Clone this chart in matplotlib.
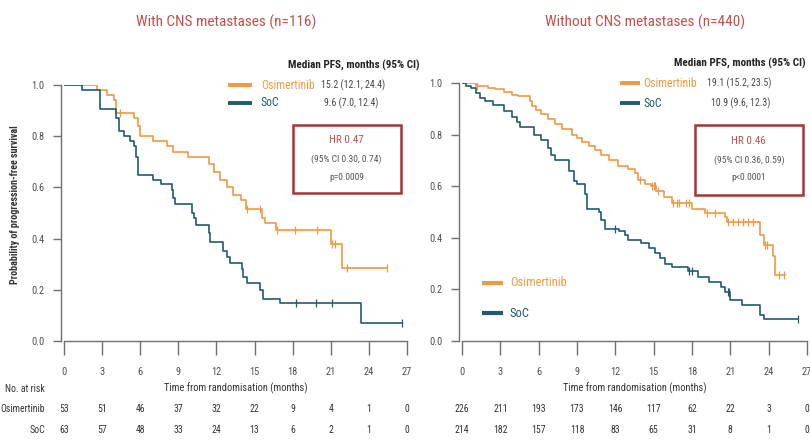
import numpy as np
import matplotlib
matplotlib.use("Agg")
import matplotlib.pyplot as plt
from matplotlib import font_manager as fm
from matplotlib.patches import Rectangle
import matplotlib.transforms as mtrans

entries = fm.fontManager.ttflist
names = {f.name for f in entries}
FAM, STRETCH, NARROW = "DejaVu Sans", "normal", False
for cand in ["Liberation Sans Narrow", "Roboto Condensed", "Open Sans Condensed", "DejaVu Sans Condensed"]:
    if cand in names:
        FAM, NARROW = cand, True
        break
if not NARROW:
    for f in entries:
        if f.name == "DejaVu Sans" and "ondensed" in f.fname:
            FAM, STRETCH, NARROW = "DejaVu Sans", "condensed", True
            break
plt.rcParams["font.family"] = [FAM, "DejaVu Sans"]
plt.rcParams["font.stretch"] = STRETCH
K = 1.0 if NARROW else 0.85  # shrink text a little if no narrow face

ORANGE = "#EE9A45"
TEAL = "#1F5C6B"
TITLE_RED = "#C0504D"
BOX_RED = "#A83236"
GRAY = "#505050"

# ---------------- data ----------------
titles = ["With CNS metastases (n=116)", "Without CNS metastases (n=440)"]
xticks = [0, 3, 6, 9, 12, 15, 18, 21, 24, 27]
yticks = [0.0, 0.2, 0.4, 0.6, 0.8, 1.0]

# Left: with CNS metastases
osi_L_t = [2.6, 3.4, 3.9, 4.1, 5.5, 5.8, 6.0, 7.0, 8.1, 8.6, 9.8, 11.4, 11.8, 12.3, 12.8,
           13.3, 13.9, 14.3, 15.6, 15.8, 16.7, 21.0, 21.9]
osi_L_s = [0.98, 0.96, 0.94, 0.89, 0.87, 0.84, 0.80, 0.78, 0.76, 0.74, 0.72, 0.69, 0.66, 0.63, 0.60,
           0.57, 0.55, 0.515, 0.48, 0.46, 0.435, 0.38, 0.285]
osi_L_end = 25.4
osi_L_cens = [4.4, 14.4, 15.4, 16.8, 18.2, 19.9, 21.1, 21.3, 22.3, 25.4]

soc_L_t = [1.4, 2.8, 4.1, 4.3, 4.7, 5.2, 5.5, 5.7, 5.85, 7.0, 7.6, 8.5, 8.6, 8.7, 10.05, 10.2,
           10.4, 11.4, 11.5, 12.5, 12.8, 13.1, 14.0, 14.1, 14.4, 15.4, 15.7, 17.0, 23.4]
soc_L_s = [0.98, 0.905, 0.87, 0.82, 0.80, 0.78, 0.76, 0.72, 0.65, 0.63, 0.615, 0.59, 0.56, 0.535, 0.50, 0.48,
           0.455, 0.42, 0.385, 0.35, 0.33, 0.305, 0.28, 0.25, 0.225, 0.20, 0.165, 0.147, 0.069]
soc_L_end = 26.6
soc_L_cens = [18.3, 19.8, 21.1, 26.6]

# Right: without CNS metastases
osi_R_t = [1.1, 2.0, 2.6, 3.3, 3.9, 4.4, 5.3, 5.5, 5.8, 6.2, 6.7, 7.3, 7.8, 8.6, 9.0, 9.4, 9.9, 10.4,
           10.9, 11.5, 12.2, 13.0, 13.5, 13.8, 14.3, 14.8, 15.2, 15.8, 16.4, 18.0, 19.0, 20.6, 20.7,
           23.3, 23.6, 24.3, 24.5]
osi_R_s = [0.99, 0.98, 0.975, 0.965, 0.955, 0.948, 0.93, 0.91, 0.895, 0.88, 0.86, 0.84, 0.82, 0.80, 0.785,
           0.77, 0.755, 0.74, 0.72, 0.70, 0.68, 0.665, 0.65, 0.625, 0.61, 0.60, 0.58, 0.56, 0.534, 0.51,
           0.495, 0.48, 0.463, 0.41, 0.373, 0.33, 0.256]
osi_R_end = 25.3
osi_R_cens = [1.2, 13.9, 14.9, 15.0, 15.1, 15.3, 16.5, 16.8, 17.0, 17.5, 17.8, 19.2, 19.8, 20.8,
              21.2, 21.6, 22.0, 22.4, 22.8, 23.7, 23.9, 24.8, 25.2]

soc_R_t = [0.34, 0.73, 1.1, 1.4, 1.8, 2.4, 3.3, 3.9, 4.3, 4.5, 5.6, 6.2, 6.7, 7.0, 7.3, 8.4, 8.8, 9.0,
           9.6, 9.75, 10.7, 10.9, 11.2, 12.3, 12.75, 13.0, 14.0, 14.6, 15.1, 15.5, 15.9, 16.4, 17.7,
           18.5, 19.3, 20.3, 20.6, 21.0, 21.9, 23.3, 23.6]
soc_R_s = [0.99, 0.98, 0.96, 0.94, 0.93, 0.915, 0.89, 0.87, 0.85, 0.83, 0.80, 0.78, 0.75, 0.72, 0.70,
           0.66, 0.62, 0.61, 0.57, 0.51, 0.50, 0.47, 0.435, 0.425, 0.41, 0.39, 0.38, 0.36, 0.34, 0.32,
           0.30, 0.285, 0.27, 0.25, 0.23, 0.21, 0.19, 0.16, 0.14, 0.10, 0.084]
soc_R_end = 26.3
soc_R_cens = [12.0, 17.8, 18.0, 20.8, 20.9, 26.3]

risk_osi_L = [53, 51, 46, 37, 32, 22, 9, 4, 1, 0]
risk_soc_L = [63, 57, 48, 33, 24, 13, 6, 2, 1, 0]
risk_osi_R = [226, 211, 193, 173, 146, 117, 62, 22, 3, 0]
risk_soc_R = [214, 182, 157, 118, 83, 65, 31, 8, 1, 0]

median_L = ["15.2 (12.1, 24.4)", "9.6 (7.0, 12.4)"]
median_R = ["19.1 (15.2, 23.5)", "10.9 (9.6, 12.3)"]
hr_L = ["HR 0.47", "(95% CI 0.30, 0.74)", "p=0.0009"]
hr_R = ["HR 0.46", "(95% CI 0.36, 0.59)", "p<0.0001"]

# ---------------- figure ----------------
fig = plt.figure(figsize=(8.1, 4.44), dpi=100)
axL = fig.add_axes([64 / 810, 1 - 341 / 444, 343 / 810, 256 / 444])
axR = fig.add_axes([462 / 810, 1 - 341 / 444, 345 / 810, 258 / 444])


def km(ax, t, s, end, cens, color):
    tt = np.concatenate([[0.0], t, [end]])
    ss = np.concatenate([[1.0], s, [s[-1]]])
    ax.step(tt, ss, where="post", color=color, lw=1.2, zorder=3)
    ct = np.asarray(cens)
    idx = np.searchsorted(tt, ct, side="right") - 1
    ax.plot(ct, ss[idx], ls="none", marker="|", ms=6, mew=0.9, color=color, zorder=4)


def style(ax):
    ax.set_xlim(0, 27)
    ax.set_ylim(0, 1)
    for sp in ["top", "right"]:
        ax.spines[sp].set_visible(False)
    for sp in ["left", "bottom"]:
        ax.spines[sp].set_color("#707070")
        ax.spines[sp].set_linewidth(1.0)
    ax.spines["left"].set_position(("outward", 2))
    ax.set_xticks(xticks)
    ax.set_xticklabels([str(v) for v in xticks])
    ax.set_yticks(yticks)
    ax.set_yticklabels([f"{v:.1f}" for v in yticks])
    ax.tick_params(axis="x", length=10, width=1, color="#707070", pad=9, labelsize=7.5 * K, labelcolor=GRAY)
    ax.tick_params(axis="y", length=6, width=1, color="#707070", pad=6, labelsize=7.5 * K, labelcolor=GRAY)
    ax.set_xlabel("Time from randomisation (months)", fontsize=7.5 * K, color="#333333", labelpad=4)


for ax in (axL, axR):
    style(ax)

km(axL, osi_L_t, osi_L_s, osi_L_end, osi_L_cens, ORANGE)
km(axL, soc_L_t, soc_L_s, soc_L_end, soc_L_cens, TEAL)
km(axR, osi_R_t, osi_R_s, osi_R_end, osi_R_cens, ORANGE)
km(axR, soc_R_t, soc_R_s, soc_R_end, soc_R_cens, TEAL)

fig.text(226 / 810, 1 - 22 / 444, titles[0], ha="center", va="center", fontsize=11 * K, color=TITLE_RED)
fig.text(645 / 810, 1 - 22 / 444, titles[1], ha="center", va="center", fontsize=11 * K, color=TITLE_RED)
fig.text(15 / 810, 1 - 205 / 444, "Probability of progression-free survival", rotation=90,
         ha="center", va="center", fontsize=7.2 * K, fontweight="bold", color="#333333")


def legend_block(ax, x_head, x_line0, x_line1, x_lab, x_val, y1, y2, meds, hr, box):
    kw = dict(clip_on=False, va="center")
    ax.text(x_head, 1.078, "Median PFS, months (95% CI)", ha="right", fontweight="bold",
            color="#222222", fontsize=8 * K, **kw)
    ax.plot([x_line0, x_line1], [y1, y1], color=ORANGE, lw=2.8, clip_on=False, solid_capstyle="butt")
    ax.plot([x_line0, x_line1], [y2, y2], color=TEAL, lw=2.8, clip_on=False, solid_capstyle="butt")
    ax.text(x_lab, y1, "Osimertinib", ha="left", color=ORANGE, fontsize=8.5 * K, **kw)
    ax.text(x_lab, y2, "SoC", ha="left", color=TEAL, fontsize=8.5 * K, **kw)
    ax.text(x_val, y1, meds[0], ha="left", color="#444444", fontsize=7 * K, **kw)
    ax.text(x_val + 0.3, y2, meds[1], ha="left", color="#444444", fontsize=7 * K, **kw)
    bx0, by0, bx1, by1 = box
    ax.add_patch(Rectangle((bx0, by0), bx1 - bx0, by1 - by0, fill=False, ec=BOX_RED, lw=1.8,
                           clip_on=False, zorder=5))
    xc = (bx0 + bx1) / 2
    ax.text(xc, by1 - 0.06, hr[0], ha="center", color=TITLE_RED, clip_on=False, va="center", fontsize=8 * K)
    ax.text(xc, by1 - 0.135, hr[1], ha="center", color="#555555", clip_on=False, va="center", fontsize=6.8 * K)
    ax.text(xc, by1 - 0.205, hr[2], ha="center", color="#555555", clip_on=False, va="center", fontsize=6.8 * K)


legend_block(axL, 28.0, 12.9, 14.8, 15.5, 20.2, 1.0, 0.93, median_L, hr_L, (18.0, 0.578, 26.5, 0.844))
legend_block(axR, 26.9, 12.4, 13.9, 14.2, 19.15, 1.0, 0.922, median_R, hr_R, (18.2, 0.566, 26.7, 0.837))

# lower-left legend in right panel
axR.plot([1.56, 3.2], [0.225, 0.225], color=ORANGE, lw=3, solid_capstyle="butt")
axR.plot([1.56, 3.2], [0.108, 0.108], color=TEAL, lw=3, solid_capstyle="butt")
axR.text(3.75, 0.225, "Osimertinib", color=ORANGE, fontsize=9 * K, va="center")
axR.text(3.75, 0.108, "SoC", color=TEAL, fontsize=9 * K, va="center")

# risk table
yr0, yr1, yr2 = 1 - 389 / 444, 1 - 409 / 444, 1 - 430 / 444
fig.text(45 / 810, yr0, "No. at risk", ha="right", va="center", fontsize=7 * K, color="#333333")
fig.text(45 / 810, yr1, "Osimertinib", ha="right", va="center", fontsize=7 * K, color="#333333")
fig.text(45 / 810, yr2, "SoC", ha="right", va="center", fontsize=7 * K, color="#333333")
for ax, ro, rs in ((axL, risk_osi_L, risk_soc_L), (axR, risk_osi_R, risk_soc_R)):
    tr = mtrans.blended_transform_factory(ax.transData, fig.transFigure)
    for x, a, b in zip(xticks, ro, rs):
        ax.text(x, yr1, str(a), transform=tr, ha="center", va="center", fontsize=7 * K,
                color="#333333", clip_on=False)
        ax.text(x, yr2, str(b), transform=tr, ha="center", va="center", fontsize=7 * K,
                color="#333333", clip_on=False)

fig.savefig("out.png", dpi=100)
